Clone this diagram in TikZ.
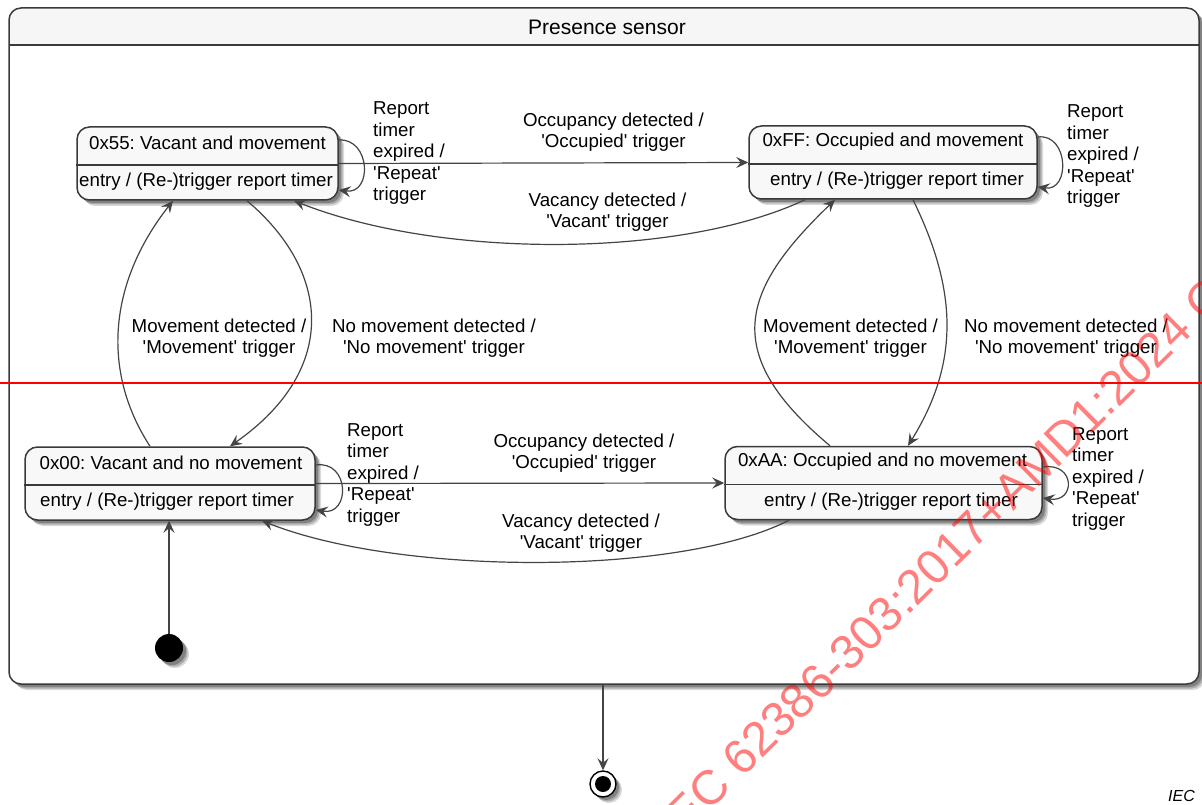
\documentclass[tikz,border=0pt]{standalone}
\usepackage{fontspec}
\setmainfont{Liberation Sans}
\usetikzlibrary{arrows.meta, calc}

\definecolor{boxline}{HTML}{3A3A3A}
\definecolor{boxfill}{HTML}{F8F8F8}
\definecolor{headfill}{HTML}{F6F6F6}
\definecolor{linegray}{HTML}{444444}

\newcommand{\apos}{\textquotesingle}
\frenchspacing

\tikzset{
  txt/.style={font=\fontsize{18.7}{21.5}\selectfont, inner sep=0pt, align=center},
  replabel/.style={txt, align=left, anchor=west},
  softshadow/.style={
    preaction={fill=black, fill opacity=0.15, transform canvas={shift={(6pt,-6pt)}}},
    preaction={fill=black, fill opacity=0.2, transform canvas={shift={(4.5pt,-4.5pt)}}},
    preaction={fill=black, fill opacity=0.25, transform canvas={shift={(3pt,-3pt)}}}},
  statebox/.style={draw=boxline, line width=1.5pt, fill=boxfill, rounded corners=12.5pt,
    minimum height=73pt, inner sep=0pt, softshadow},
  trans/.style={draw=linegray, line width=1.2pt, -{Stealth[length=12pt, width=11pt, inset=4.5pt]}},
}

\begin{document}
\begin{tikzpicture}[x=1pt, y=-1pt]
  \useasboundingbox (0,0) rectangle (1202,805);

  % Composite state
  \node[fill=white, rounded corners=12pt, outer sep=0pt, minimum width=1190pt, minimum height=676pt,
    softshadow] (sensor) at (604,346) {};
  \begin{scope}
    \clip (9,8) rectangle (1199,45);
    \fill[headfill, rounded corners=12pt] (sensor.north west) rectangle (sensor.south east);
  \end{scope}
  \draw[boxline, line width=1.5pt, rounded corners=12pt] (sensor.north west) rectangle (sensor.south east);
  \draw[boxline, line width=1.5pt] ([yshift=-37pt]sensor.north west) -- ([yshift=-37pt]sensor.north east);
  \node[txt, font=\fontsize{21}{25}\selectfont] (sensortitle) at (607,27) {Presence sensor};

  % States
  \node[statebox, minimum width=261pt] (s55) at (207.5,163.5) {};
  \node[statebox, minimum width=288pt] (sff) at (893,162.5) {};
  \node[statebox, minimum width=290pt] (s00) at (170,483.5) {};
  \node[statebox, minimum width=317pt] (saa) at (883.5,483) {};
  \foreach \s in {s55,sff,s00,saa}
    \draw[boxline, line width=1.5pt] ([yshift=-1.5pt]\s.west) -- ([yshift=-1.5pt]\s.east);

  \node[txt] (s55name) at ([yshift=21pt]s55.center) {0x55: Vacant and movement};
  \node[txt] (s55entry) at ([xshift=-1.5pt, yshift=-18.5pt]s55.center) {entry / (Re-)trigger report timer};
  \node[txt] (sffname) at ([yshift=21pt]sff.center) {0xFF: Occupied and movement};
  \node[txt] (sffentry) at ([xshift=4pt, yshift=-18.5pt]sff.center) {entry / (Re-)trigger report timer};
  \node[txt] (s00name) at ([xshift=1pt, yshift=21pt]s00.center) {0x00: Vacant and no movement};
  \node[txt] (s00entry) at ([xshift=-3pt, yshift=-18.5pt]s00.center) {entry / (Re-)trigger report timer};
  \node[txt] (saaname) at ([xshift=-1pt, yshift=21pt]saa.center) {0xAA: Occupied and no movement};
  \node[txt] (saaentry) at ([xshift=7.5pt, yshift=-18.5pt]saa.center) {entry / (Re-)trigger report timer};

  % Transitions
  \draw[trans] (s55.east) -- (sff.west);
  \draw[trans] ([xshift=-88pt]sff.south) .. controls +(-125,59) and +(146,58) .. ([xshift=86.5pt]s55.south);
  \draw[trans] ([xshift=39.5pt]s55.south) .. controls +(83,70) and +(110,-77) .. ([xshift=60pt]s00.north);
  \draw[trans] ([xshift=-20pt]s00.north) .. controls +(-50,-77) and +(-63,80) .. ([xshift=-34.5pt]s55.south);
  \draw[trans] (s00.east) -- (saa.west);
  \draw[trans] ([xshift=-94.5pt]saa.south) .. controls +(-109,56) and +(138,55) .. ([xshift=92pt]s00.south);
  \draw[trans] ([xshift=20pt]sff.south) .. controls +(42,86) and +(54,-87) .. ([xshift=24.5pt]saa.north);
  \draw[trans] ([xshift=-53.5pt]saa.north) .. controls +(-110,-92) and +(-95,91) .. ([xshift=-58pt]sff.south);

  % Self loops
  \draw[trans] ([yshift=23.5pt]s55.east) .. controls +(32,-2) and +(34,5) .. ([yshift=-26.5pt]s55.east);
  \draw[trans] ([yshift=25.5pt]sff.east) .. controls +(31,-4) and +(33,5) .. ([yshift=-24.5pt]sff.east);
  \draw[trans] ([yshift=18.5pt]s00.east) .. controls +(34,-5) and +(35,6) .. ([yshift=-26.5pt]s00.east);
  \draw[trans] ([yshift=16pt]saa.east) .. controls +(33,-5) and +(33,5) .. ([yshift=-15pt]saa.east);

  % Labels
  \node[txt] (occtop) at (613.5,132) {Occupancy detected /\\\apos Occupied\apos{} trigger};
  \node[txt] (vactop) at (607.5,212) {Vacancy detected /\\\apos Vacant\apos{} trigger};
  \node[txt] (occbot) at (584,453) {Occupancy detected /\\\apos Occupied\apos{} trigger};
  \node[txt] (vacbot) at (581,533) {Vacancy detected /\\\apos Vacant\apos{} trigger};
  \node[txt] (movleft) at (219,338) {Movement detected /\\\apos Movement\apos{} trigger};
  \node[txt] (nomovleft) at (434,338) {No movement detected /\\\apos No movement\apos{} trigger};
  \node[txt] (movright) at (850.5,338) {Movement detected /\\\apos Movement\apos{} trigger};
  \node[txt] (nomovright) at (1066,338) {No movement detected /\\\apos No movement\apos{} trigger};
  \node[replabel] (rep55) at (373,153.5) {Report\\timer\\expired /\\\apos Repeat\apos\\trigger};
  \node[replabel] (repff) at (1067,156.5) {Report\\timer\\expired /\\\apos Repeat\apos\\trigger};
  \node[replabel] (rep00) at (347,475) {Report\\timer\\expired /\\\apos Repeat\apos\\trigger};
  \node[replabel] (repaa) at (1072,479) {Report\\timer\\expired /\\\apos Repeat\apos\\trigger};

  % Initial and final states
  \node[circle, fill=black, minimum size=28pt, inner sep=0pt, softshadow] (init) at (169,648) {};
  \draw[trans] (init.north) -- (init |- s00.south);
  \node[circle, draw=black, line width=1.4pt, fill=white, minimum size=26pt, inner sep=0pt, softshadow] (final) at (603,784) {};
  \node[circle, fill=black, minimum size=16pt, inner sep=0pt] (finaldot) at (final.center) {};
  \draw[trans] (sensor.south -| final.north) -- (final.north);

  % Red line and watermark
  \draw[red, line width=1.8pt] (0,383) -- (1202,383);
  \begin{scope}
    \clip (0,0) rectangle (1202,805);
    \node[font=\fontsize{48.3}{58}\selectfont, text=red, text opacity=0.5, rotate=44.6,
      anchor=base west, inner sep=0pt] (watermark) at (675.6,844.7) {IEC 62386-303:2017+AMD1:2024 C};
  \end{scope}
  \node[font=\fontsize{16}{19}\selectfont\itshape, anchor=east, inner sep=0pt] (ieclabel) at (1195,796) {IEC};
\end{tikzpicture}
\end{document}
